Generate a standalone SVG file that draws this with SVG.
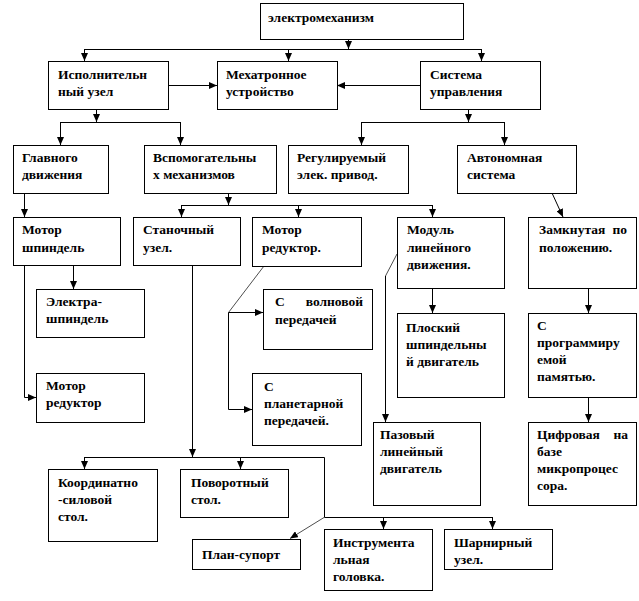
<svg xmlns="http://www.w3.org/2000/svg" width="639" height="601" viewBox="0 0 639 601">
<style>
.box{fill:#fff;stroke:#000;stroke-width:1}
.t{font-family:"Liberation Serif","Times New Roman","DejaVu Serif",serif;font-weight:bold;font-size:13.5px;fill:#000}
.c{fill:none;stroke:#000;stroke-width:1}
.d{fill:none;stroke:#000;stroke-width:0.7}
</style>
<defs>
<marker id="a" markerUnits="userSpaceOnUse" markerWidth="8" markerHeight="7" refX="8" refY="3.5" orient="auto">
<path d="M0,0 L8,3.5 L0,7 z" fill="#000"/>
</marker>
</defs>
<rect width="639" height="601" fill="#fff"/>
<g id="connectors">
<path class="c" d="M348.5,39 V49" marker-end="url(#a)"/>
<path class="c" d="M84.5,49.5 H481.5"/>
<path class="c" d="M84.5,49 V61" marker-end="url(#a)"/>
<path class="c" d="M288.5,49 V61" marker-end="url(#a)"/>
<path class="c" d="M481.5,49 V61" marker-end="url(#a)"/>
<path class="c" d="M168,85.5 H217" marker-end="url(#a)"/>
<path class="c" d="M420,85.5 H337" marker-end="url(#a)"/>
<path class="c" d="M96.5,109 V122" marker-end="url(#a)"/>
<path class="c" d="M60.5,122.5 H180.5"/>
<path class="c" d="M60.5,122 V145" marker-end="url(#a)"/>
<path class="c" d="M180.5,122 V145" marker-end="url(#a)"/>
<path class="c" d="M468.5,109 V122" marker-end="url(#a)"/>
<path class="c" d="M361.5,122.5 H504.5"/>
<path class="c" d="M361.5,122 V145" marker-end="url(#a)"/>
<path class="c" d="M504.5,122 V145" marker-end="url(#a)"/>
<path class="c" d="M24.5,193 V217" marker-end="url(#a)"/>
<path class="c" d="M228.5,193 V205" marker-end="url(#a)"/>
<path class="c" d="M181.5,205.5 H432.5"/>
<path class="c" d="M181.5,205 V217" marker-end="url(#a)"/>
<path class="c" d="M298.5,205 V217" marker-end="url(#a)"/>
<path class="c" d="M432.5,205 V217" marker-end="url(#a)"/>
<path class="c" d="M552,193 L563,217" marker-end="url(#a)"/>
<path class="c" d="M24.5,265 V397.5 H36" marker-end="url(#a)"/>
<path class="c" d="M73.5,265 V289" marker-end="url(#a)"/>
<path class="c" d="M192.5,265 V457" marker-end="url(#a)"/>
<path class="c" d="M84.5,457.5 H324.5 V517.5 H492.5"/>
<path class="c" d="M84.5,457 V469" marker-end="url(#a)"/>
<path class="c" d="M240.5,457 V469" marker-end="url(#a)"/>
<path class="c" d="M383.5,517 V529" marker-end="url(#a)"/>
<path class="c" d="M492.5,517 V529" marker-end="url(#a)"/>
<path class="d" d="M324,517.5 L290,538.5" marker-end="url(#a)"/>
<path class="d" d="M264,266 L228.5,312.5"/>
<path class="c" d="M228.5,312.5 H263" marker-end="url(#a)"/>
<path class="c" d="M228.5,312.5 V409.5 H252" marker-end="url(#a)"/>
<path class="d" d="M397,254 L385.5,276"/>
<path class="c" d="M385.5,276 V422" marker-end="url(#a)"/>
<path class="c" d="M432.5,288 V313" marker-end="url(#a)"/>
<path class="c" d="M588.5,288 V313" marker-end="url(#a)"/>
<path class="c" d="M588.5,397 V422" marker-end="url(#a)"/>
</g>
<g id="n1"><rect class="box" x="260.5" y="3.5" width="203" height="36"/><text class="t" x="268" y="22">электромеханизм</text></g>
<g id="n2"><rect class="box" x="48.5" y="61.5" width="120" height="48"/><text class="t"><tspan x="58" y="79">Исполнительн</tspan><tspan x="58" y="96">ный узел</tspan></text></g>
<g id="n3"><rect class="box" x="217.5" y="61.5" width="120" height="48"/><text class="t"><tspan x="226" y="79">Мехатронное</tspan><tspan x="226" y="96">устройство</tspan></text></g>
<g id="n4"><rect class="box" x="420.5" y="61.5" width="120" height="48"/><text class="t"><tspan x="430" y="79">Система</tspan><tspan x="430" y="96">управления</tspan></text></g>
<g id="n5"><rect class="box" x="13.5" y="145.5" width="95" height="48"/><text class="t"><tspan x="22" y="162">Главного</tspan><tspan x="22" y="179">движения</tspan></text></g>
<g id="n6"><rect class="box" x="144.5" y="145.5" width="132" height="48"/><text class="t"><tspan x="153" y="162">Вспомогательны</tspan><tspan x="153" y="179">х механизмов</tspan></text></g>
<g id="n7"><rect class="box" x="288.5" y="145.5" width="120" height="48"/><text class="t"><tspan x="297" y="162">Регулируемый</tspan><tspan x="297" y="179">элек. привод.</tspan></text></g>
<g id="n8"><rect class="box" x="457.5" y="145.5" width="119" height="48"/><text class="t"><tspan x="467" y="162">Автономная</tspan><tspan x="467" y="179">система</tspan></text></g>
<g id="n9"><rect class="box" x="13.5" y="217.5" width="107" height="48"/><text class="t"><tspan x="22" y="234">Мотор</tspan><tspan x="22" y="252">шпиндель</tspan></text></g>
<g id="n10"><rect class="box" x="133.5" y="217.5" width="107" height="48"/><text class="t"><tspan x="143" y="234">Станочный</tspan><tspan x="143" y="252">узел.</tspan></text></g>
<g id="n11"><rect class="box" x="252.5" y="217.5" width="109" height="49"/><text class="t"><tspan x="262" y="234">Мотор</tspan><tspan x="262" y="252">редуктор.</tspan></text></g>
<g id="n12"><rect class="box" x="397.5" y="217.5" width="107" height="71"/><text class="t"><tspan x="407" y="234">Модуль</tspan><tspan x="407" y="251.5">линейного</tspan><tspan x="407" y="269">движения.</tspan></text></g>
<g id="n13"><rect class="box" x="528.5" y="217.5" width="108" height="71"/><text class="t"><tspan x="539" y="234">Замкнутая</tspan><tspan x="627" y="234" text-anchor="end">по</tspan><tspan x="539" y="252">положению.</tspan></text></g>
<g id="n14"><rect class="box" x="36.5" y="289.5" width="108" height="48"/><text class="t"><tspan x="46" y="306">Электра-</tspan><tspan x="46" y="323">шпиндель</tspan></text></g>
<g id="n15"><rect class="box" x="36.5" y="373.5" width="108" height="49"/><text class="t"><tspan x="46" y="390">Мотор</tspan><tspan x="46" y="407">редуктор</tspan></text></g>
<g id="n16"><rect class="box" x="263.5" y="289.5" width="109" height="60"/><text class="t"><tspan x="275" y="306">С</tspan><tspan x="363" y="306" text-anchor="end">волновой</tspan><tspan x="275" y="324">передачей</tspan></text></g>
<g id="n17"><rect class="box" x="252.5" y="373.5" width="109" height="72"/><text class="t"><tspan x="264" y="391">С</tspan><tspan x="264" y="408">планетарной</tspan><tspan x="264" y="425">передачей.</tspan></text></g>
<g id="n18"><rect class="box" x="397.5" y="313.5" width="107" height="84"/><text class="t"><tspan x="406" y="332">Плоский</tspan><tspan x="406" y="349">шпиндельны</tspan><tspan x="406" y="366">й двигатель</tspan></text></g>
<g id="n19"><rect class="box" x="528.5" y="313.5" width="108" height="84"/><text class="t"><tspan x="537" y="330">С</tspan><tspan x="537" y="347">программиру</tspan><tspan x="537" y="364">емой</tspan><tspan x="537" y="381">памятью.</tspan></text></g>
<g id="n20"><rect class="box" x="373.5" y="422.5" width="107" height="83"/><text class="t"><tspan x="380" y="439">Пазовый</tspan><tspan x="380" y="456">линейный</tspan><tspan x="380" y="473">двигатель</tspan></text></g>
<g id="n21"><rect class="box" x="528.5" y="422.5" width="108" height="83"/><text class="t"><tspan x="537" y="439">Цифровая</tspan><tspan x="628" y="439" text-anchor="end">на</tspan><tspan x="537" y="456">базе</tspan><tspan x="537" y="473">микропроцес</tspan><tspan x="537" y="490">сора.</tspan></text></g>
<g id="n22"><rect class="box" x="48.5" y="469.5" width="109" height="72"/><text class="t"><tspan x="58" y="487">Координатно</tspan><tspan x="58" y="504">-силовой</tspan><tspan x="58" y="521">стол.</tspan></text></g>
<g id="n23"><rect class="box" x="180.5" y="469.5" width="108" height="48"/><text class="t"><tspan x="191" y="487">Поворотный</tspan><tspan x="191" y="504">стол.</tspan></text></g>
<g id="n24"><rect class="box" x="192.5" y="539.5" width="108" height="30"/><text class="t" x="202" y="559">План-супорт</text></g>
<g id="n25"><rect class="box" x="324.5" y="529.5" width="108" height="61"/><text class="t"><tspan x="333" y="547">Инструмента</tspan><tspan x="333" y="564">льная</tspan><tspan x="333" y="581">головка.</tspan></text></g>
<g id="n26"><rect class="box" x="444.5" y="529.5" width="108" height="40"/><text class="t"><tspan x="454" y="547">Шарнирный</tspan><tspan x="454" y="564">узел.</tspan></text></g>
</svg>
